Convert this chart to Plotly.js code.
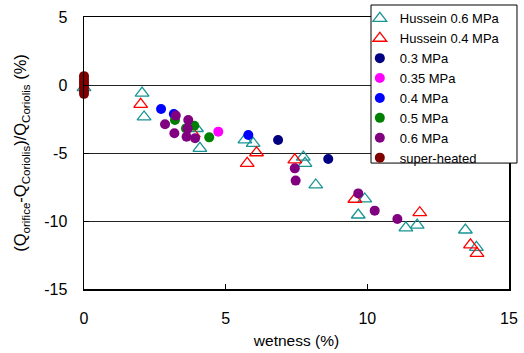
<!DOCTYPE html>
<html><head><meta charset="utf-8">
<script src="https://cdn.plot.ly/plotly-3.0.1.min.js"></script>
<style>html,body{margin:0;padding:0;background:#fff}#c{width:524px;height:353px}</style>
</head><body><div id="c"></div>
<script>
const names = ["Hussein 0.6 MPa","Hussein 0.4 MPa","0.3 MPa","0.35 MPa","0.4 MPa","0.5 MPa","0.6 MPa","super-heated"];
const colors = ["#199494","#ff0000","#000080","#ff00ff","#0000ff","#008000","#800080","#800000"];

const h06x = [0, 2.05, 2.12, 3.97, 4.09, 5.68, 5.97, 7.74, 7.8, 8.18, 9.91, 9.68, 11.36, 11.76, 13.46, 13.85];
const h06y = [-0.2, -0.6, -2.35, -3.2, -4.66, -4.04, -4.29, -5.3, -5.76, -7.35, -8.38, -9.56, -10.5, -10.3, -10.66, -11.94];

const h04x = [2.0, 3.86, 5.76, 6.09, 7.44, 9.56, 11.85, 13.64, 13.87];
const h04y = [-1.42, -3.6, -5.76, -4.98, -5.5, -8.4, -9.39, -11.76, -12.38];

const p03x = [6.85, 8.62];
const p03y = [-4.04, -5.44];

const p035x = [4.74];
const p035y = [-3.43];

const p04x = [2.72, 3.17, 5.8];
const p04y = [-1.76, -2.13, -3.68];

const p05x = [3.21, 3.6, 3.89, 4.42];
const p05y = [-2.57, -3.19, -3.0, -3.85];

const p06x = [2.86, 3.24, 3.68, 3.19, 3.66, 3.62, 3.92, 7.44, 7.47, 9.68, 10.26, 11.06];
const p06y = [-2.89, -2.25, -2.57, -3.55, -3.19, -3.8, -3.92, -6.13, -7.03, -7.97, -9.24, -9.85];

const shx = [0, 0, 0, 0, 0, 0, 0];
const shy = [0.65, 0.4, 0.2, 0, -0.2, -0.45, -0.65];

const xs = [h06x, h04x, p03x, p035x, p04x, p05x, p06x, shx];
const ys = [h06y, h04y, p03y, p035y, p04y, p05y, p06y, shy];

const traces = names.map((n, i) => {
  const tri = i < 2;
  return {
    type: "scatter", mode: "markers", name: n, x: xs[i], y: ys[i], cliponaxis: false,
    marker: tri
      ? {symbol: "triangle-up-open", size: 12, color: colors[i], line: {width: 1.3, color: colors[i]}}
      : {symbol: "circle", size: 10, color: colors[i], line: {width: 0}}
  };
});

const layout = {
  width: 524, height: 353,
  margin: {l: 84, r: 15, t: 17, b: 64, autoexpand: false},
  paper_bgcolor: "#fff", plot_bgcolor: "#fff",
  font: {family: "Liberation Sans, Arial, sans-serif", color: "#000"},
  showlegend: true,
  legend: {
    x: 0.649, y: 1.05, xanchor: "left", yanchor: "top",
    bgcolor: "rgba(0,0,0,0)", borderwidth: 0,
    font: {size: 13, family: "Liberation Sans, Arial, sans-serif"},
    tracegroupgap: 0
  },
  shapes: [{
    type: "rect", xref: "paper", yref: "paper", layer: "above",
    x0: 0.6753, x1: 1.0188, y0: 0.463, y1: 1.0441,
    fillcolor: "#fff", line: {color: "#000", width: 1}
  }],
  xaxis: {
    range: [0, 15], tickvals: [0, 5, 10, 15], ticktext: ["0", "5", "10", "15"],
    showgrid: false, zeroline: false,
    showline: true, linecolor: "#000", linewidth: 1.5, mirror: true,
    ticks: "inside", ticklen: 5, tickcolor: "#000",
    tickfont: {size: 16}, ticklabelstandoff: 14,
    title: {text: "wetness (%)", font: {size: 15.5}, standoff: 9}
  },
  yaxis: {
    range: [-15, 5], tickvals: [-15, -10, -5, 0, 5], ticktext: ["-15", "-10", "-5", "0", "5"],
    showgrid: true, gridcolor: "#222", gridwidth: 1, zeroline: false,
    showline: true, linecolor: "#000", linewidth: 1.5, mirror: true,
    ticks: "inside", ticklen: 5, tickcolor: "#000",
    tickfont: {size: 16}, ticklabelstandoff: 12,
    title: {text: "(Q<sub>orifice</sub>-Q<sub>Coriolis</sub>)/Q<sub>Coriolis</sub> (%)", font: {size: 16.5}, standoff: 13}
  }
};

Plotly.newPlot("c", traces, layout, {displayModeBar: false, staticPlot: true});
</script></body></html>
